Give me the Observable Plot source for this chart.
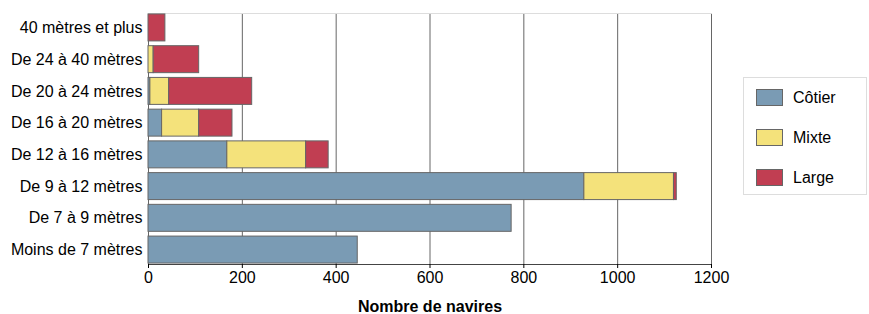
<!DOCTYPE html>
<html><head><meta charset="utf-8">
<script src="https://cdn.jsdelivr.net/npm/d3@7"></script>
<script src="https://cdn.jsdelivr.net/npm/@observablehq/plot@0.6"></script>
<style>
body{margin:0;background:#fff;font-family:"Liberation Sans",Arial,sans-serif;}
#wrap{position:relative;width:869px;height:314px;}
#legend{position:absolute;left:743px;top:77px;width:124px;height:118px;border:1px solid #ddd;box-sizing:border-box;}
.item{position:absolute;left:12px;height:18px;font-size:16px;line-height:18px;}
.sw{position:absolute;left:0;top:0;width:27px;height:17px;border:1px solid #666;box-sizing:border-box;}
.lab{position:absolute;left:37px;top:0;white-space:nowrap;color:#000;}
</style></head>
<body><div id="wrap"><div id="chart"></div><div id="legend"></div></div>
<script>
const categories = ["40 mètres et plus","De 24 à 40 mètres","De 20 à 24 mètres","De 16 à 20 mètres","De 12 à 16 mètres","De 9 à 12 mètres","De 7 à 9 mètres","Moins de 7 mètres"];
const series = ["Côtier","Mixte","Large"];
const cotier = [0, 0, 4, 29, 168, 929, 774, 446];
const mixte  = [0, 11, 40, 79, 168, 191, 0, 0];
const large  = [36, 97, 177, 71, 48, 6, 0, 0];
const colors = ["#7a9bb4","#f4e27b","#c13e52"];
const xTicks = [0,200,400,600,800,1000,1200];

const data = [];
categories.forEach((c,i)=>{
  data.push({cat:c, s:"Côtier", v:cotier[i]});
  data.push({cat:c, s:"Mixte", v:mixte[i]});
  data.push({cat:c, s:"Large", v:large[i]});
});

const chart = Plot.plot({
  width: 869, height: 314,
  marginLeft: 148, marginRight: 158, marginTop: 13, marginBottom: 50,
  style: {fontFamily: '"Liberation Sans", Arial, sans-serif', fontSize: "16px", color: "#000", background: "#fff"},
  x: {domain: [0,1200], ticks: xTicks, label: null},
  y: {domain: categories, paddingInner: 0.15, paddingOuter: 0.03, round: false, label: null},
  color: {domain: series, range: colors},
  marks: [
    Plot.gridX(xTicks, {stroke: "#666", strokeOpacity: 1}),
    Plot.frame({anchor: "top", stroke: "#ddd"}),
    Plot.barX(data, Plot.stackX({x: "v", y: "cat", fill: "s", order: series, stroke: "#666", strokeWidth: 1})),
    Plot.ruleX([0], {stroke: "#444", y1: null}),
    Plot.frame({anchor: "bottom", stroke: "#444"}),
    Plot.axisX({ticks: xTicks, tickSize: 4, tickPadding: 3, fontSize: 16, tickFormat: d => String(d), label: null}),
    Plot.axisY({tickSize: 0, tickPadding: 6, fontSize: 16, label: null}),
    Plot.text(["Nombre de navires"], {frameAnchor: "bottom", lineAnchor: "middle", dy: 42, fontWeight: "bold", fontSize: 16, fill: "#000"})
  ]
});
document.getElementById("chart").appendChild(chart);

const lg = document.getElementById("legend");
const tops = [11, 51, 91];
series.forEach((s,i)=>{
  const it = document.createElement("div");
  it.className = "item"; it.style.top = tops[i]+"px";
  it.innerHTML = `<div class="sw" style="background:${colors[i]}"></div><div class="lab">${s}</div>`;
  lg.appendChild(it);
});
</script></body></html>
